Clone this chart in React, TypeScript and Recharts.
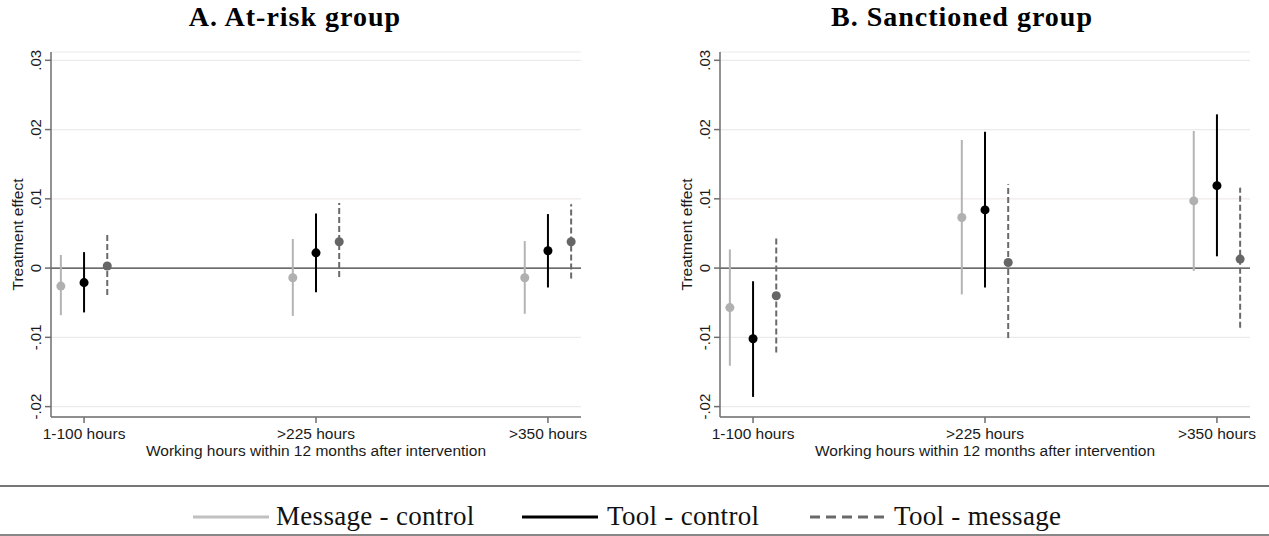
import React from 'react';
import { ComposedChart, Scatter, ErrorBar, XAxis, YAxis, CartesianGrid, ReferenceLine } from 'recharts';

const CATEGORIES = ['1-100 hours', '>225 hours', '>350 hours'];
const Y_TICKS = [-0.02, -0.01, 0, 0.01, 0.02, 0.03];
const SERIES_NAMES = ['Message - control', 'Tool - control', 'Tool - message'];

// Panel A: at-risk group
const A_MSG = [-0.0026, -0.0014, -0.0014];
const A_MSG_LO = [-0.0068, -0.0069, -0.0066];
const A_MSG_HI = [0.0019, 0.0042, 0.0039];
const A_TOOL = [-0.0021, 0.0022, 0.0025];
const A_TOOL_LO = [-0.0064, -0.0035, -0.0028];
const A_TOOL_HI = [0.0023, 0.0079, 0.0078];
const A_TM = [0.0003, 0.0038, 0.0038];
const A_TM_LO = [-0.0039, -0.0013, -0.0015];
const A_TM_HI = [0.0048, 0.0094, 0.0092];

// Panel B: sanctioned group
const B_MSG = [-0.0057, 0.0073, 0.0097];
const B_MSG_LO = [-0.0141, -0.0038, -0.0004];
const B_MSG_HI = [0.0027, 0.0185, 0.0198];
const B_TOOL = [-0.0102, 0.0084, 0.0119];
const B_TOOL_LO = [-0.0186, -0.0028, 0.0017];
const B_TOOL_HI = [-0.0019, 0.0197, 0.0222];
const B_TM = [-0.004, 0.0008, 0.0013];
const B_TM_LO = [-0.0122, -0.0101, -0.0086];
const B_TM_HI = [0.0044, 0.0121, 0.0116];

const DODGE = 0.1;
const SANS = '"Liberation Sans", Arial, sans-serif';
const SERIF = '"Liberation Serif", "Times New Roman", serif';

const STYLES = [
  { color: '#b4b4b4', dot: '#b0b0b0', dash: undefined },
  { color: '#000000', dot: '#000000', dash: undefined },
  { color: '#6a6a6a', dot: '#666666', dash: '6 3' },
];

const build = (pt: number[], lo: number[], hi: number[], k: number) =>
  pt.map((v, i) => ({ x: i + 1 + (k - 1) * DODGE, y: v, err: [v - lo[i], hi[i] - v] }));

const fmtY = (v: number) => (v === 0 ? '0' : v.toFixed(2).replace('0.', '.'));

const YTick = (props: any) => {
  const { x, y, payload } = props;
  return (
    <text x={x} y={y} transform={`rotate(-90 ${x} ${y})`} textAnchor="middle" fontSize={15} fill="#1a1a1a" fontFamily={SANS}>
      {fmtY(payload.value)}
    </text>
  );
};

const YTitle = (props: any) => {
  const vb = props.viewBox || {};
  const x = vb.x + 23;
  const y = vb.y + vb.height / 2;
  return (
    <text x={x} y={y} transform={`rotate(-90 ${x} ${y})`} textAnchor="middle" fontSize={15.5} fill="#1a1a1a" fontFamily={SANS}>
      Treatment effect
    </text>
  );
};

function Panel({ series }: { series: any[][] }) {
  return (
    <ComposedChart width={600} height={470} margin={{ top: 52, right: 19, bottom: 13, left: 0 }} style={{ fontFamily: SANS }}>
      <CartesianGrid horizontal vertical={false} stroke="#efeaea" strokeWidth={1.2} />
      <XAxis
        type="number"
        dataKey="x"
        domain={[0.8575, 3.1425]}
        ticks={[1, 2, 3]}
        allowDataOverflow
        tickFormatter={(v: number) => CATEGORIES[Math.round(v) - 1]}
        height={40}
        tickSize={6}
        tickMargin={5}
        interval={0}
        axisLine={{ stroke: '#6e6e6e', strokeWidth: 1.5 }}
        tickLine={{ stroke: '#6e6e6e', strokeWidth: 1.5 }}
        tick={{ fontSize: 15.5, fill: '#1a1a1a', fontFamily: SANS }}
        label={{ value: 'Working hours within 12 months after intervention', position: 'insideBottom', offset: 1, fontSize: 15.5, fill: '#1a1a1a', fontFamily: SANS }}
      />
      <YAxis
        type="number"
        dataKey="y"
        domain={[-0.0215, 0.0312]}
        ticks={Y_TICKS}
        allowDataOverflow
        width={51}
        tickSize={6}
        tickMargin={4}
        interval={0}
        axisLine={{ stroke: '#6e6e6e', strokeWidth: 1.5 }}
        tickLine={{ stroke: '#6e6e6e', strokeWidth: 1.5 }}
        tick={<YTick />}
        label={<YTitle />}
      />
      <ReferenceLine y={0} stroke="#404040" strokeWidth={1.3} />
      {series.map((data, k) => (
        <Scatter key={SERIES_NAMES[k]} name={SERIES_NAMES[k]} data={data} fill={STYLES[k].dot} isAnimationActive={false}>
          <ErrorBar
            dataKey="err"
            direction="y"
            width={0}
            stroke={STYLES[k].color}
            strokeWidth={2}
            strokeDasharray={STYLES[k].dash}
            isAnimationActive={false}
          />
        </Scatter>
      ))}
    </ComposedChart>
  );
}

const panelA = [build(A_MSG, A_MSG_LO, A_MSG_HI, 0), build(A_TOOL, A_TOOL_LO, A_TOOL_HI, 1), build(A_TM, A_TM_LO, A_TM_HI, 2)];
const panelB = [build(B_MSG, B_MSG_LO, B_MSG_HI, 0), build(B_TOOL, B_TOOL_LO, B_TOOL_HI, 1), build(B_TM, B_TM_LO, B_TM_HI, 2)];

const LEGEND_POS = [
  { line: 193, text: 276 },
  { line: 522, text: 607 },
  { line: 810, text: 894 },
];

const titleStyle: React.CSSProperties = {
  position: 'absolute',
  top: 2,
  textAlign: 'center',
  fontFamily: SERIF,
  fontWeight: 'bold',
  fontSize: 28,
  letterSpacing: 1,
  lineHeight: '30px',
  color: '#000',
};

export default function App() {
  return (
    <div style={{ position: 'absolute', left: 0, top: 0, width: 1269, height: 536, background: '#fff', overflow: 'hidden' }}>
      <div style={{ ...titleStyle, left: 0, width: 590 }}>A. At-risk group</div>
      <div style={{ ...titleStyle, left: 669, width: 586 }}>B. Sanctioned group</div>
      <div style={{ position: 'absolute', left: 0, top: 0 }}>
        <Panel series={panelA} />
      </div>
      <div style={{ position: 'absolute', left: 669, top: 0 }}>
        <Panel series={panelB} />
      </div>
      <div style={{ position: 'absolute', left: 0, top: 485, width: 1269, height: 1.5, background: '#777' }} />
      <div style={{ position: 'absolute', left: 0, top: 534, width: 1269, height: 1.5, background: '#888' }} />
      {SERIES_NAMES.map((name, k) => (
        <React.Fragment key={name}>
          <svg style={{ position: 'absolute', left: LEGEND_POS[k].line, top: 512 }} width={76} height={10}>
            <line x1={0} x2={76} y1={5} y2={5} stroke={k === 0 ? '#c0c0c0' : STYLES[k].color} strokeWidth={3} strokeDasharray={k === 2 ? '10 6' : undefined} />
          </svg>
          <div
            style={{
              position: 'absolute',
              left: LEGEND_POS[k].text,
              top: 501,
              fontFamily: SERIF,
              fontSize: 27,
              letterSpacing: 0.3,
              lineHeight: '30px',
              color: '#111',
              whiteSpace: 'nowrap',
            }}
          >
            {name}
          </div>
        </React.Fragment>
      ))}
    </div>
  );
}
